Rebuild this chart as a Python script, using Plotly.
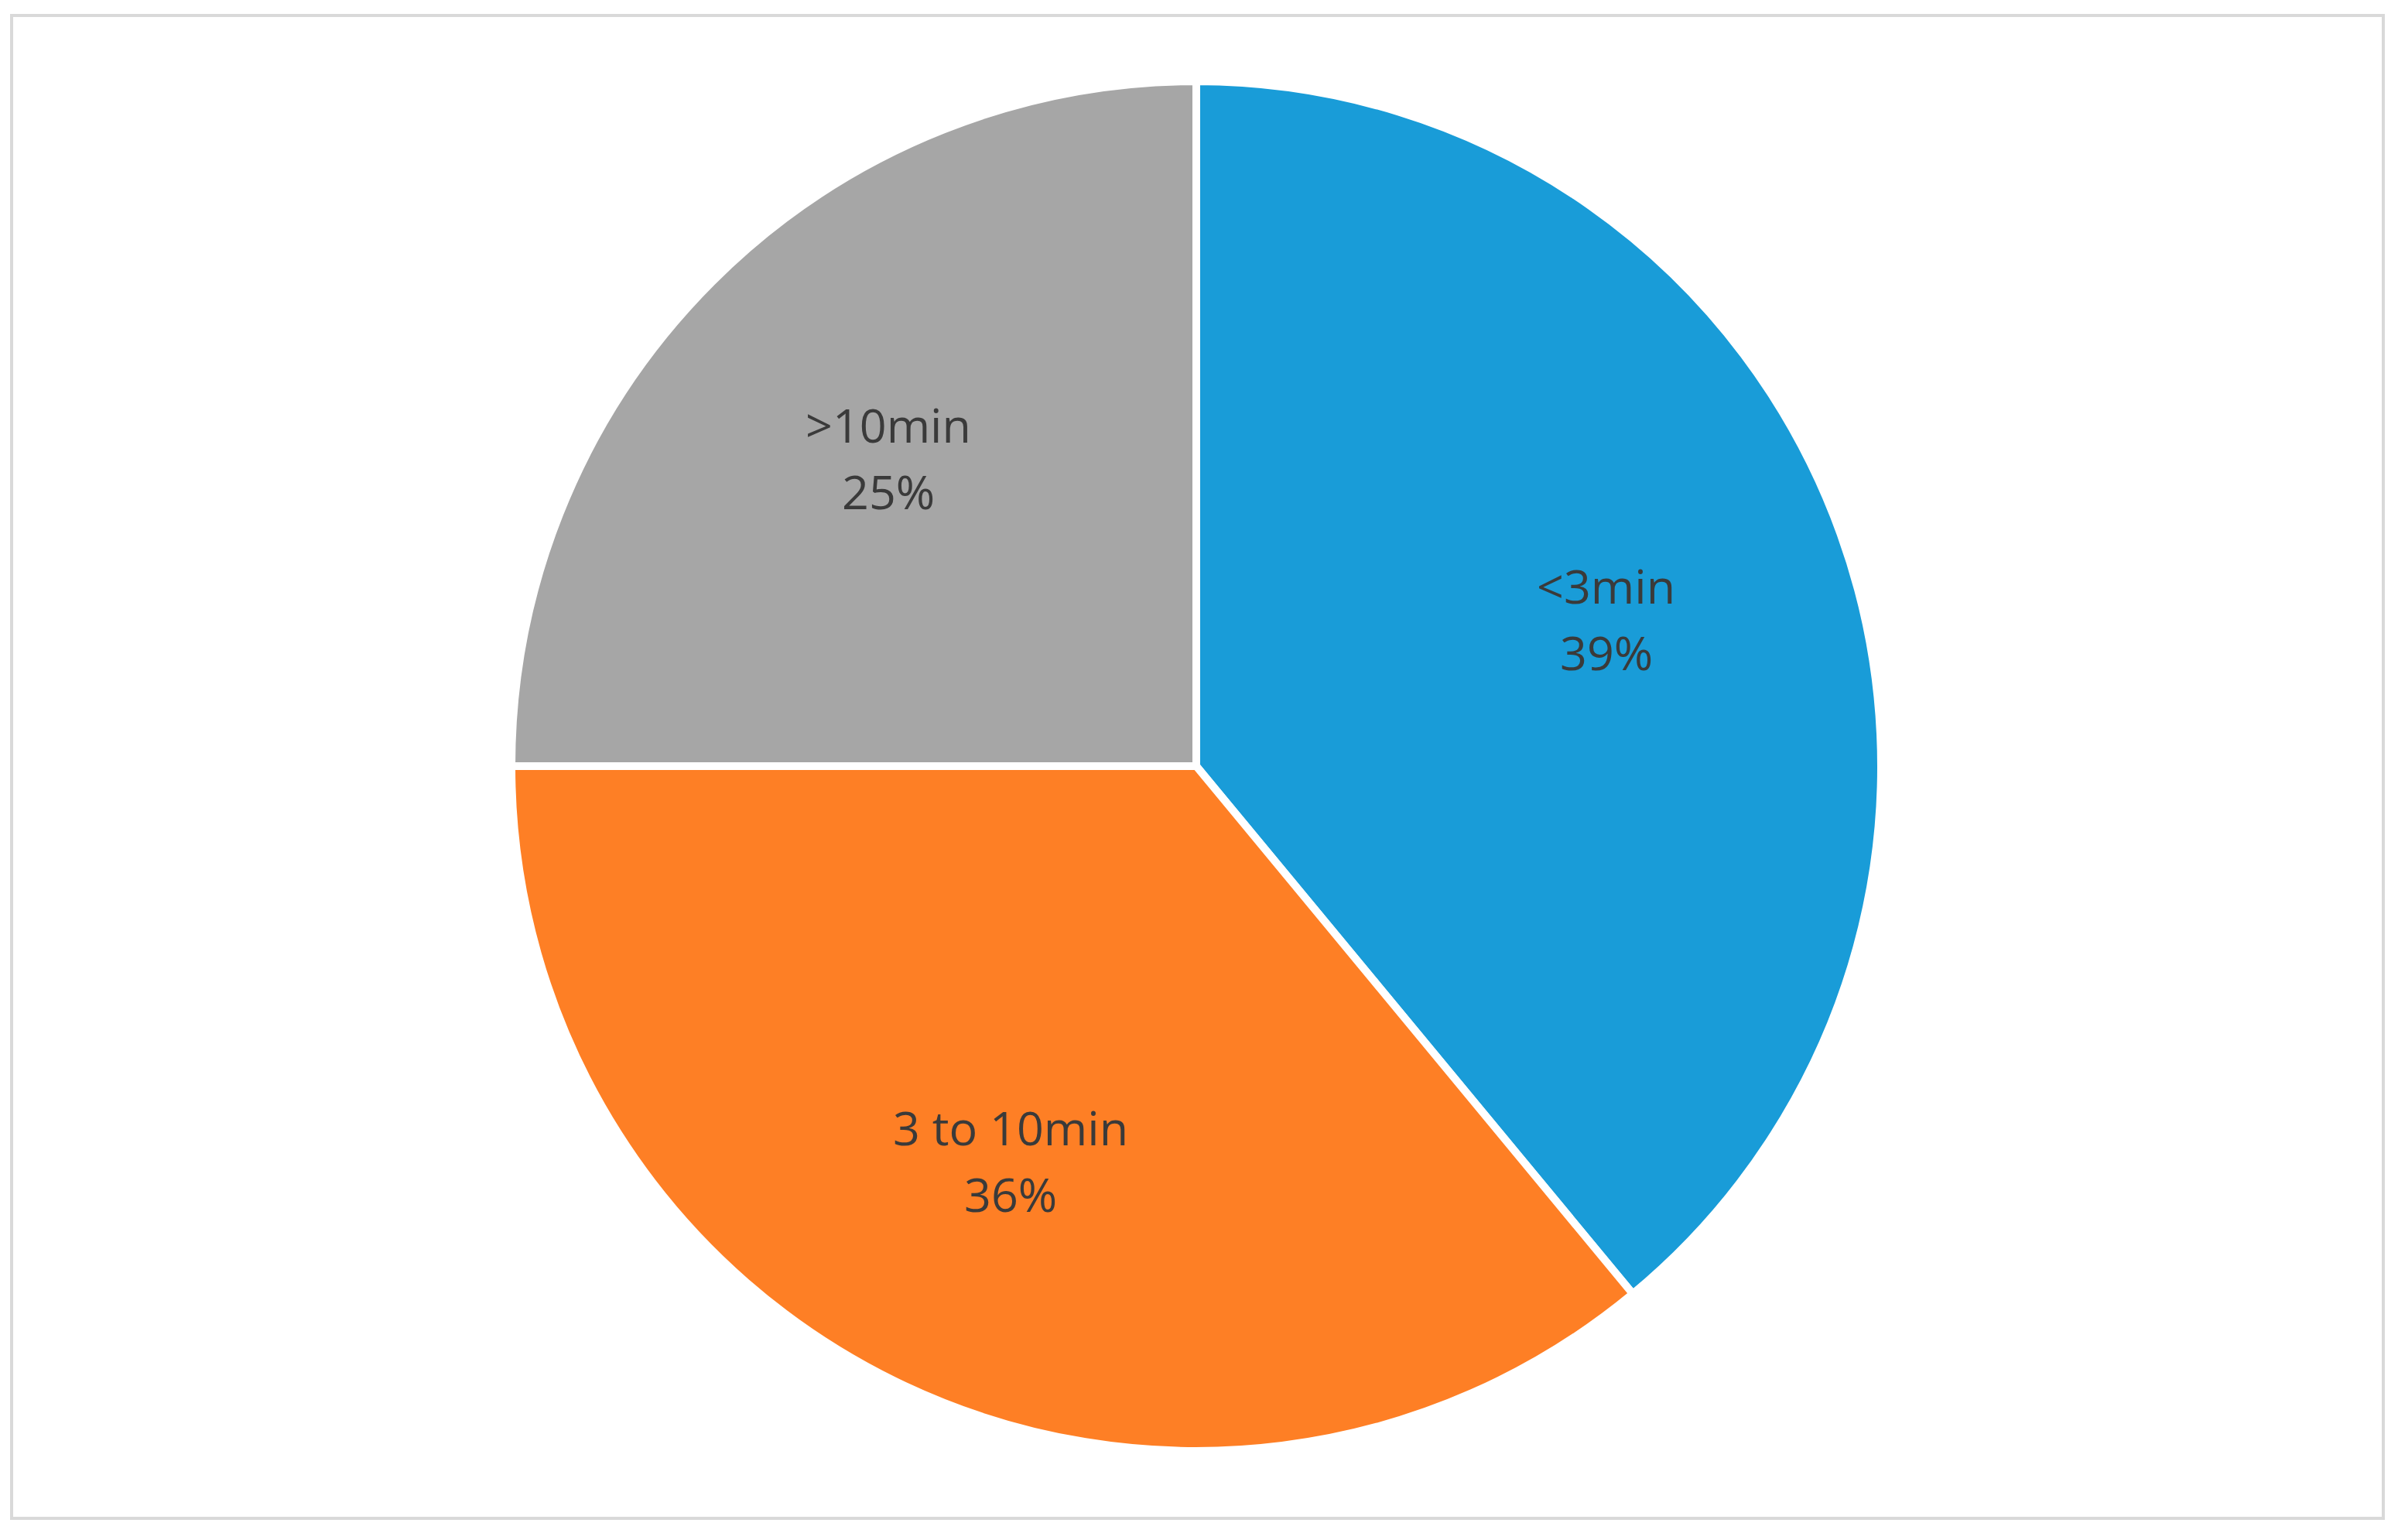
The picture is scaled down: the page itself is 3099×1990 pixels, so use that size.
import math
import plotly.graph_objects as go

categories = ["<3min", "3 to 10min", ">10min"]
values = [39, 36, 25]
colors = ["#199CD8", "#FE7F25", "#A6A6A6"]

W, H = 3099, 1990
OFF = 8                      # default body margin of the html page
cx, cy = 1546 - OFF, 990 - OFF
r_vis = 880
line_w = 10
r = r_vis + line_w / 2
label_frac = 0.64
font = dict(family="Open Sans", size=61, color="#3A3A3A")

fig = go.Figure(go.Pie(
    labels=categories,
    values=values,
    sort=False,
    direction="clockwise",
    rotation=0,
    marker=dict(colors=colors, line=dict(color="white", width=line_w)),
    textinfo="none",
    domain=dict(x=[(cx - r) / W, (cx + r) / W], y=[(H - cy - r) / H, (H - cy + r) / H]),
    showlegend=False,
    hoverinfo="label+percent",
))

# data labels placed along each slice's bisector
total = sum(values)
annotations = []
cum = 0.0
for lab, v in zip(categories, values):
    mid = (cum + v / 2) / total * 2 * math.pi
    cum += v
    px = cx + label_frac * r_vis * math.sin(mid)
    py = cy - label_frac * r_vis * math.cos(mid)
    xp, yp = px / W, 1 - py / H
    pct = f"{round(v / total * 100)}%"
    for txt, ys in ((lab, 43), (pct, -43)):
        annotations.append(dict(x=xp, y=yp, xref="paper", yref="paper", text=txt,
                                showarrow=False, xanchor="center", yanchor="middle",
                                yshift=ys, font=font))

fig.update_layout(
    width=W, height=H,
    margin=dict(l=0, r=0, t=0, b=0),
    paper_bgcolor="white",
    plot_bgcolor="white",
    annotations=annotations,
    shapes=[dict(type="rect", xref="paper", yref="paper",
                 x0=(15 - OFF) / W, x1=(3080 - OFF) / W,
                 y0=1 - (1962 - OFF) / H, y1=1 - (20 - OFF) / H,
                 line=dict(color="#D9D9D9", width=4), fillcolor="rgba(0,0,0,0)")],
)

fig.write_html("out.html")
